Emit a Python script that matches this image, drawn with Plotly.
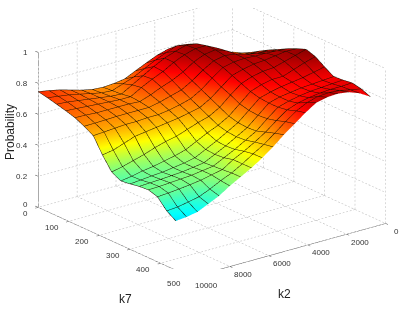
import plotly.graph_objects as go

k7_values = [0, 30, 60, 90, 120, 150, 180, 210, 240, 270, 300, 330, 360, 390, 420, 450]
k2_values = [10000, 9444, 8889, 8333, 7778, 7222, 6667, 6111, 5556, 5000, 4444, 3889, 3333, 2778, 2222, 1667, 1111, 556, 0]

j00 = [.747,.735,.72,.705,.687,.659,.625,.528,.445,.414,.422,.433,.438,.42,.356,.318]
j01 = [.735,.725,.715,.70,.685,.66,.63,.54,.46,.425,.428,.437,.44,.425,.362,.325]
j02 = [.72,.715,.705,.695,.68,.662,.635,.565,.48,.44,.435,.44,.445,.432,.375,.338]
j03 = [.70,.70,.695,.69,.68,.665,.64,.59,.50,.45,.44,.445,.45,.44,.39,.37]
j04 = [.68,.685,.685,.685,.68,.665,.64,.60,.525,.465,.45,.45,.455,.45,.42,.403]
j05 = [.665,.67,.675,.68,.68,.665,.645,.61,.545,.48,.46,.46,.465,.465,.455,.448]
j06 = [.66,.665,.67,.68,.675,.665,.645,.62,.56,.50,.475,.47,.475,.48,.485,.487]
j07 = [.665,.69,.71,.72,.70,.68,.655,.63,.585,.535,.51,.505,.51,.525,.525,.526]
j08 = [.675,.715,.75,.755,.73,.70,.67,.645,.61,.57,.545,.54,.545,.56,.57,.571]
j09 = [.708,.75,.79,.785,.755,.72,.69,.66,.63,.60,.585,.58,.585,.60,.612,.623]
j10 = [.74,.785,.825,.825,.79,.76,.73,.70,.67,.64,.625,.62,.625,.645,.665,.682]
j11 = [.77,.815,.85,.855,.835,.81,.785,.755,.73,.70,.685,.68,.685,.70,.72,.734]
j12 = [.79,.84,.87,.875,.865,.85,.835,.81,.785,.76,.745,.74,.74,.75,.77,.786]
j13 = [.79,.83,.86,.875,.875,.865,.85,.83,.81,.785,.765,.76,.76,.775,.805,.831]
j14 = [.75,.78,.81,.84,.85,.855,.855,.845,.825,.80,.78,.77,.775,.79,.825,.847]
j15 = [.70,.73,.76,.79,.81,.835,.85,.85,.83,.80,.79,.78,.785,.80,.83,.851]
j16 = [.68,.70,.725,.76,.79,.82,.85,.86,.85,.825,.80,.785,.79,.805,.825,.841]
j17 = [.665,.685,.71,.745,.78,.815,.845,.87,.87,.85,.815,.79,.795,.805,.81,.815]
j18 = [.656,.677,.708,.744,.778,.808,.84,.867,.89,.87,.831,.795,.80,.809,.797,.773]
z_columns = [j00,j01,j02,j03,j04,j05,j06,j07,j08,j09,j10,j11,j12,j13,j14,j15,j16,j17,j18]

k2_ticks = [0, 2000, 4000, 6000, 8000, 10000]
k7_ticks = [0, 100, 200, 300, 400, 500]
z_ticks = [0, 0.2, 0.4, 0.6, 0.8, 1]
z_tick_labels = ["0", "0.2", "0.4", "0.6", "0.8", "1"]

JET = [[0, "#00008f"], [.125, "#0000ff"], [.375, "#00ffff"], [.625, "#ffff00"], [.875, "#ff0000"], [1, "#800000"]]
AXC = "#555555"
GRID = "#b4b4b4"
TXT = "#333333"
K2MAX, K7MAX = 10000, 500
MESHC = "#1c0e00"

fig = go.Figure()
fig.add_trace(go.Surface(
    x=k2_values, y=k7_values,
    z=[[z_columns[j][i] for j in range(len(k2_values))] for i in range(len(k7_values))],
    colorscale=JET, cmin=0, cmax=0.9, showscale=False, hoverinfo="skip",
    lighting=dict(ambient=1, diffuse=0, specular=0, fresnel=0, roughness=1),
    contours=dict(
        x=dict(show=True, start=0, end=10000, size=10000/18, color=MESHC, width=2, highlight=False),
        y=dict(show=True, start=0, end=450, size=30, color=MESHC, width=2, highlight=False),
        z=dict(show=False, highlight=False),
    ),
))

def segs(items):
    xs, ys, zs = [], [], []
    for p, q in items:
        xs += [p[0], q[0], None]; ys += [p[1], q[1], None]; zs += [p[2], q[2], None]
    return xs, ys, zs

def lines(items, color, width=1):
    x, y, z = segs(items)
    fig.add_trace(go.Scatter3d(x=x, y=y, z=z, mode="lines", line=dict(color=color, width=width), hoverinfo="skip"))

def dotted(p, q, n):
    out = []
    for s in range(n):
        a = s / n
        b = (s + 0.5) / n
        out.append((tuple(p[d] + (q[d] - p[d]) * a for d in range(3)),
                    tuple(p[d] + (q[d] - p[d]) * b for d in range(3))))
    return out

grid = []
for t in k2_ticks:
    grid += dotted((t, 0, 0), (t, K7MAX, 0), 45)
    grid += dotted((t, 0, 0), (t, 0, 1), 40)
for t in k7_ticks:
    grid += dotted((0, t, 0), (K2MAX, t, 0), 55)
    grid += dotted((0, t, 0), (0, t, 1), 40)
for t in z_ticks:
    grid += dotted((0, 0, t), (K2MAX, 0, t), 55)
    grid += dotted((0, 0, t), (0, K7MAX, t), 45)
lines(grid, GRID, 1)

axes = [((K2MAX, 0, 0), (K2MAX, 0, 1)), ((K2MAX, 0, 0), (K2MAX, K7MAX, 0)), ((0, K7MAX, 0), (K2MAX, K7MAX, 0))]
for t in k7_ticks:
    axes.append(((K2MAX, t, 0), (K2MAX + 150, t, 0)))
for t in k2_ticks:
    axes.append(((t, K7MAX, 0), (t, K7MAX + 8, 0)))
for t in z_ticks:
    axes.append(((K2MAX, 0, t), (K2MAX, -10, t)))
lines(axes, AXC, 1)

ann = []
f = dict(family="Liberation Sans", size=8, color=TXT)
for t in k7_ticks:
    ann.append(dict(x=K2MAX, y=t, z=0, text=str(t), showarrow=False, xanchor="right", xshift=-8, yshift=-6, font=f))
for t in k2_ticks:
    ann.append(dict(x=t, y=K7MAX, z=0, text=str(t), showarrow=False, xanchor="left", xshift=6 if t == 0 else 2, yshift=-8, font=f))
for t, s in zip(z_ticks, z_tick_labels):
    ann.append(dict(x=K2MAX, y=0, z=t, text=s, showarrow=False, xanchor="right", xshift=-8, yshift=3 if t == 0 else 0, font=f))

hidden = dict(visible=False)
lab = dict(family="Liberation Sans", size=12, color="#222222")
fig.update_layout(
    width=399, height=309, margin=dict(l=0, r=0, t=0, b=0), showlegend=False,
    paper_bgcolor="white",
    scene=dict(
        domain=dict(x=[0.052, 1], y=[0.13, 0.974]),
        xaxis=dict(range=[0, 10200], **hidden),
        yaxis=dict(range=[-10, 510], **hidden),
        zaxis=dict(range=[0, 1], **hidden),
        aspectmode="manual",
        aspectratio=dict(x=1.926, y=1.985, z=1.27),
        camera=dict(projection=dict(type="orthographic"), up=dict(x=0, y=0, z=1),
                    center=dict(x=0, y=0, z=0), eye=dict(x=1.05, y=1.35, z=0.65)),
        annotations=ann,
    ),
    annotations=[
        dict(x=10/399, y=1-132/309, xref="paper", yref="paper", xanchor="center", yanchor="middle", text="Probability", textangle=-90, showarrow=False, font=lab),
        dict(x=125/399, y=1-299/309, xref="paper", yref="paper", xanchor="center", yanchor="middle", text="k7", showarrow=False, font=lab),
        dict(x=284/399, y=1-294/309, xref="paper", yref="paper", xanchor="center", yanchor="middle", text="k2", showarrow=False, font=lab),
    ],
)
fig.write_html("out.html", config=dict(displayModeBar=False),
               post_script="document.body.style.margin='0';document.body.style.overflow='hidden';")
